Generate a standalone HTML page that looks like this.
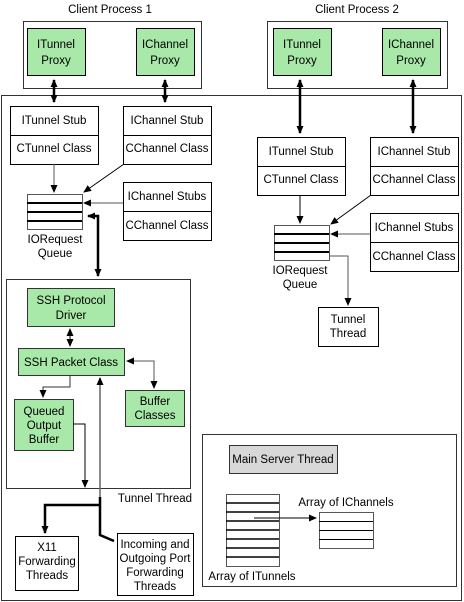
<!DOCTYPE html>
<html><head><style>
html,body{margin:0;padding:0;background:#fff;}
svg{display:block;}
text{font-family:"Liberation Sans",sans-serif;font-size:11.5px;fill:#000;}
</style></head><body>
<svg width="464" height="602" viewBox="0 0 464 602" xmlns="http://www.w3.org/2000/svg">
<defs>
<marker id="a" markerWidth="8" markerHeight="8" refX="7" refY="4" orient="auto" markerUnits="userSpaceOnUse"><path d="M0,0.5 L8,4 L0,7.5 Z" fill="#000"/></marker>
<marker id="s" markerWidth="8" markerHeight="8" refX="1" refY="4" orient="auto" markerUnits="userSpaceOnUse"><path d="M8,0.5 L0,4 L8,7.5 Z" fill="#000"/></marker>
</defs>
<g fill="none" stroke="#000" stroke-width="1">
<!-- outer main -->
<rect x="1.5" y="95.5" width="460" height="505" stroke="#333"/>
<!-- client 1 -->
<rect x="23.5" y="21.5" width="178" height="67" fill="#fff" stroke="#333"/>
<rect x="27.5" y="28.5" width="58" height="47" fill="#a8e8a8"/>
<rect x="136.5" y="28.5" width="58" height="47" fill="#a8e8a8"/>
<!-- client 2 -->
<rect x="267.5" y="21.5" width="180" height="67" fill="#fff" stroke="#333"/>
<rect x="273.5" y="28.5" width="58" height="47" fill="#a8e8a8"/>
<rect x="382.5" y="28.5" width="58" height="47" fill="#a8e8a8"/>
<!-- stubs left -->
<rect x="10.5" y="106.5" width="88" height="58"/><line x1="10" y1="135.5" x2="98" y2="135.5"/>
<rect x="123.5" y="106.5" width="88" height="58"/><line x1="123" y1="135.5" x2="211" y2="135.5"/>
<rect x="123.5" y="182.5" width="88" height="58"/><line x1="123" y1="211.5" x2="211" y2="211.5"/>
<!-- queue left -->
<rect x="27.5" y="194.5" width="55" height="35" stroke="#555"/>
<line x1="27" y1="203" x2="82" y2="203" stroke-width="2"/><line x1="27" y1="212" x2="82" y2="212" stroke-width="2"/><line x1="27" y1="221" x2="82" y2="221" stroke-width="2"/>
<!-- stubs right -->
<rect x="257.5" y="137.5" width="88" height="58"/><line x1="257" y1="166.5" x2="345" y2="166.5"/>
<rect x="370.5" y="137.5" width="88" height="58"/><line x1="370" y1="166.5" x2="458" y2="166.5"/>
<rect x="370.5" y="213.5" width="88" height="58"/><line x1="370" y1="242.5" x2="458" y2="242.5"/>
<rect x="274.5" y="225.5" width="55" height="35" stroke="#555"/>
<line x1="274" y1="234" x2="329" y2="234" stroke-width="2"/><line x1="274" y1="243" x2="329" y2="243" stroke-width="2"/><line x1="274" y1="252" x2="329" y2="252" stroke-width="2"/>
<rect x="318.5" y="307.5" width="60" height="39"/>
<!-- tunnel thread -->
<rect x="6.5" y="279.5" width="184" height="209" stroke="#333"/>
<rect x="27.5" y="288.5" width="87" height="38" fill="#a8e8a8" stroke="#333"/>
<rect x="18.5" y="348.5" width="106" height="27" fill="#a8e8a8" stroke="#333"/>
<rect x="125.5" y="390.5" width="59" height="36" fill="#a8e8a8" stroke="#333"/>
<rect x="14.5" y="399.5" width="59" height="51" fill="#a8e8a8" stroke="#333"/>
<rect x="15.5" y="536.5" width="63" height="54"/>
<rect x="117.5" y="533.5" width="76" height="62"/>
<!-- main server -->
<rect x="202.5" y="434.5" width="254" height="152" stroke="#333"/>
<rect x="229.5" y="445.5" width="108" height="28" fill="#d8d8d8" stroke="#333"/>
<rect x="226.5" y="494.5" width="53" height="72" stroke="#555"/>
<g stroke-width="1.5"><line x1="226" y1="503" x2="279" y2="503"/><line x1="226" y1="512" x2="279" y2="512"/><line x1="226" y1="521" x2="279" y2="521"/><line x1="226" y1="530" x2="279" y2="530"/><line x1="226" y1="539" x2="279" y2="539"/><line x1="226" y1="548" x2="279" y2="548"/><line x1="226" y1="557" x2="279" y2="557"/></g>
<rect x="319.5" y="512.5" width="54" height="36" stroke="#555"/>
<line x1="319" y1="521.5" x2="373" y2="521.5"/><line x1="319" y1="530.5" x2="373" y2="530.5"/><line x1="319" y1="539.5" x2="373" y2="539.5"/>
<!-- arrows -->
<g stroke-width="2.5">
<line x1="54" y1="80" x2="54" y2="102" marker-start="url(#s)" marker-end="url(#a)"/>
<line x1="165" y1="80" x2="165" y2="102" marker-start="url(#s)" marker-end="url(#a)"/>
<line x1="300" y1="80" x2="300" y2="133" marker-start="url(#s)" marker-end="url(#a)"/>
<line x1="413" y1="80" x2="413" y2="133" marker-start="url(#s)" marker-end="url(#a)"/>
<polyline points="88,216 98,216 98,276" marker-start="url(#s)" marker-end="url(#a)"/>
<polyline points="100,505 45,505 45,533" marker-end="url(#a)"/>
<polyline points="100,497 100,535 114,541"/>
</g>
<line x1="54" y1="164" x2="54" y2="192" stroke="#555" marker-end="url(#a)"/>
<line x1="124" y1="164" x2="84" y2="192" marker-end="url(#a)"/>
<line x1="123" y1="203" x2="84" y2="203" stroke="#555" marker-end="url(#a)"/>
<line x1="300" y1="195" x2="300" y2="223" marker-end="url(#a)"/>
<line x1="371" y1="195" x2="331" y2="224" marker-end="url(#a)"/>
<line x1="370" y1="234" x2="331" y2="234" stroke="#555" marker-end="url(#a)"/>
<polyline points="329,256 348,256 348,305" stroke="#555" marker-end="url(#a)"/>
<line x1="70" y1="329" x2="70" y2="346" marker-start="url(#s)" marker-end="url(#a)"/>
<polyline points="127,361 154,361 154,388" stroke="#555" marker-start="url(#s)" marker-end="url(#a)"/>
<polyline points="70,376 70,387 43,387 43,397" stroke="#333" marker-end="url(#a)"/>
<polyline points="73,424 85,424 85,487" marker-end="url(#a)"/>
<line x1="100" y1="497" x2="100" y2="378" stroke="#666" stroke-width="1.5" marker-end="url(#a)"/>
<line x1="254" y1="518" x2="316" y2="518" marker-end="url(#a)"/>
</g>
<g text-anchor="middle">
<text x="110" y="13">Client Process 1</text>
<text x="357" y="13">Client Process 2</text>
<text x="56" y="48">ITunnel</text><text x="56" y="64">Proxy</text>
<text x="165" y="48">IChannel</text><text x="165" y="64">Proxy</text>
<text x="302" y="48">ITunnel</text><text x="302" y="64">Proxy</text>
<text x="411" y="48">IChannel</text><text x="411" y="64">Proxy</text>
<text x="54" y="124">ITunnel Stub</text><text x="54" y="152">CTunnel Class</text>
<text x="167" y="124">IChannel Stub</text><text x="167" y="152">CChannel Class</text>
<text x="167" y="200">IChannel Stubs</text><text x="167" y="229">CChannel Class</text>
<text x="55" y="243">IORequest</text><text x="55" y="257">Queue</text>
<text x="301" y="155">ITunnel Stub</text><text x="301" y="183">CTunnel Class</text>
<text x="414" y="155">IChannel Stub</text><text x="414" y="183">CChannel Class</text>
<text x="414" y="231">IChannel Stubs</text><text x="414" y="260">CChannel Class</text>
<text x="300" y="274">IORequest</text><text x="300" y="288">Queue</text>
<text x="348" y="323">Tunnel</text><text x="348" y="337">Thread</text>
<text x="71" y="304">SSH Protocol</text><text x="71" y="319">Driver</text>
<text x="71" y="366">SSH Packet Class</text>
<text x="155" y="405">Buffer</text><text x="155" y="419">Classes</text>
<text x="44" y="415">Queued</text><text x="44" y="429">Output</text><text x="44" y="443">Buffer</text>
<text x="155" y="502">Tunnel Thread</text>
<text x="47" y="551">X11</text><text x="47" y="565">Forwarding</text><text x="47" y="579">Threads</text>
<text x="155" y="548">Incoming and</text><text x="155" y="562">Outgoing Port</text><text x="155" y="576">Forwarding</text><text x="155" y="590">Threads</text>
<text x="283" y="463">Main Server Thread</text>
<text x="346" y="506">Array of IChannels</text>
<text x="252" y="580">Array of ITunnels</text>
</g>
</svg>
</body></html>
